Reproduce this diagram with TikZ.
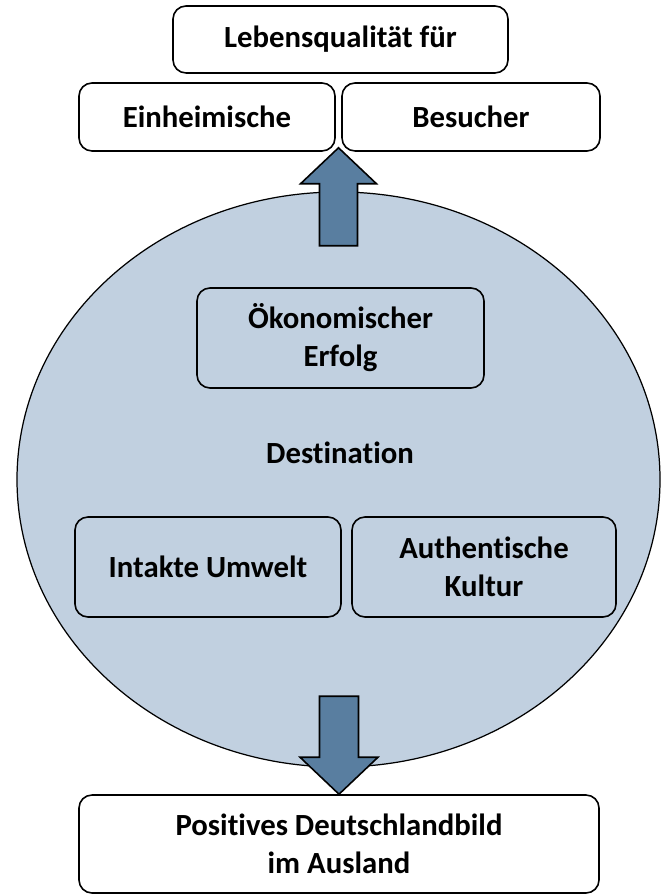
\documentclass[tikz,border=0pt]{standalone}
\usepackage{fontspec}
\setmainfont[Ligatures=NoCommon]{Carlito}
\usetikzlibrary{positioning,calc}
\definecolor{destfill}{RGB}{193,208,224}
\definecolor{arrowfill}{RGB}{89,126,160}

\begin{document}
\begin{tikzpicture}[
    box/.style={draw, line width=0.9pt, rounded corners=0.26cm, align=center,
        font=\fontsize{17.5}{21.7}\selectfont\bfseries, inner sep=0pt},
    outerbox/.style={box, fill=white},
    blockarrow/.style={draw, line width=0.9pt, fill=arrowfill, line join=miter}
]
    \useasboundingbox (0,0) rectangle (13.34,-17.88);
    % Destination
    \draw[fill=destfill, line width=0.7pt] (6.77,-9.59) ellipse (6.43cm and 5.75cm);
    \node[font=\fontsize{17.5}{21.7}\selectfont\bfseries] (dest) at (6.8,-9.06) {Destination};
    \node[box, minimum width=5.74cm, minimum height=2.0cm] (oeko) at (6.81,-6.76) {Ökonomischer\\Erfolg};
    \node[box, minimum width=5.32cm, minimum height=2.0cm] (intakt) at (4.16,-11.34) {Intakte Umwelt};
    \node[box, minimum width=5.28cm, minimum height=2.0cm] (kultur) at (9.68,-11.34) {Authentische\\Kultur};
    % Lebensqualitaet
    \node[outerbox, minimum width=6.70cm, minimum height=1.34cm] (leben) at (6.81,-0.79) {Lebensqualität für};
    \node[outerbox, minimum width=5.12cm, minimum height=1.36cm] (einh) at (4.14,-2.34) {Einheimische};
    \node[outerbox, minimum width=5.16cm, minimum height=1.36cm] (besu) at (9.42,-2.34) {Besucher};
    % Deutschlandbild
    \node[outerbox, minimum width=10.4cm, minimum height=1.96cm] (bild) at (6.78,-16.88) {Positives Deutschlandbild\\im Ausland};
    % Arrows
    \coordinate (uptip) at ($($(einh.south east)!0.5!(besu.south west)$)+(0,0.08)$);
    \coordinate (downtip) at (bild.north);
    \draw[blockarrow] (uptip) -- ++(0.76,-0.72) -- ++(-0.38,0) -- ++(0,-1.24)
        -- ++(-0.76,0) -- ++(0,1.24) -- ++(-0.38,0) -- cycle;
    \draw[blockarrow] (downtip) -- ++(0.78,0.74) -- ++(-0.39,0) -- ++(0,1.22)
        -- ++(-0.78,0) -- ++(0,-1.22) -- ++(-0.39,0) -- cycle;
\end{tikzpicture}
\end{document}
